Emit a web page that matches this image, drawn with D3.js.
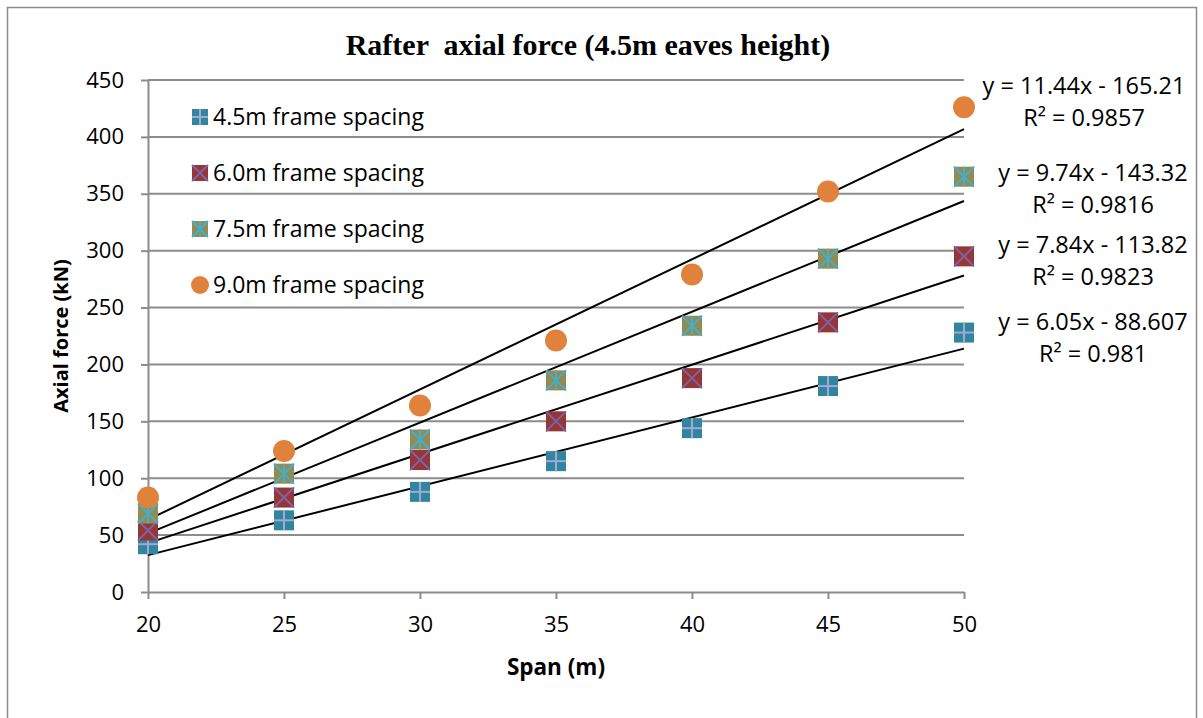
<!DOCTYPE html>
<html>
<head>
<meta charset="utf-8">
<script src="https://cdn.jsdelivr.net/npm/d3@7"></script>
<style>
  body { margin: 0; background: #fff; overflow: hidden; }
  svg { display: block; }
  text { font-family: "Open Sans", sans-serif; }
</style>
</head>
<body>
<svg id="drawing_region"></svg>
<script>
// data
var spans = [20, 25, 30, 35, 40, 45, 50];
var seriesNames = ['4.5m frame spacing', '6.0m frame spacing', '7.5m frame spacing', '9.0m frame spacing'];
var force45 = [42, 63, 88, 115, 144, 181, 228];
var force60 = [54, 83, 116, 150, 188, 237, 295];
var force75 = [69, 104, 134, 186, 234, 293, 365];
var force90 = [83, 124, 164, 221, 279, 352, 426];
var slopes = [6.05, 7.84, 9.74, 11.44];
var intercepts = [-88.607, -113.82, -143.32, -165.21];
var equations = ['y = 6.05x - 88.607', 'y = 7.84x - 113.82', 'y = 9.74x - 143.32', 'y = 11.44x - 165.21'];
var rSquared = ['R² = 0.981', 'R² = 0.9823', 'R² = 0.9816', 'R² = 0.9857'];
var yTicks = [0, 50, 100, 150, 200, 250, 300, 350, 400, 450];
var xTicks = [20, 25, 30, 35, 40, 45, 50];

var width = 1203;
var height = 718;
var margin = {top: 80, right: 239, bottom: 126, left: 148};
var innerWidth = width - margin.left - margin.right;
var innerHeight = height - margin.top - margin.bottom;

var svg = d3.select('#drawing_region')
    .attr('width', width)
    .attr('height', height);

// outer frame: top, left and right sides (bottom is below the picture)
svg.append('path')
    .attr('d', 'M7.5,718 V7.5 H1196.5 V718')
    .attr('fill', 'none')
    .attr('stroke', '#8c8c8c')
    .attr('stroke-width', 1.5);

var chart = svg.append('g')
    .attr('transform', `translate(${margin.left}, ${margin.top})`);

var xscale = d3.scaleLinear().domain([20, 50]).range([0, innerWidth]);
var yscale = d3.scaleLinear().domain([0, 450]).range([innerHeight, 0]);

// gridlines
chart.append('g').selectAll('line').data(yTicks.slice(1)).enter()
    .append('line')
    .attr('x1', 0).attr('x2', innerWidth)
    .attr('y1', d => yscale(d)).attr('y2', d => yscale(d))
    .attr('stroke', '#8c8c8c')
    .attr('stroke-width', 2);

var xaxis = d3.axisBottom(xscale).tickValues(xTicks).tickSize(7).tickSizeOuter(0).tickPadding(17);
var yaxis = d3.axisLeft(yscale).tickValues(yTicks).tickSize(7).tickSizeOuter(0).tickPadding(17);

var gx = chart.append('g')
    .attr('transform', `translate(0, ${innerHeight})`)
    .call(xaxis);
var gy = chart.append('g').call(yaxis);

[gx, gy].forEach(g => {
    g.attr('font-size', 22).attr('font-family', '"Open Sans", sans-serif');
    g.selectAll('.domain, line').attr('stroke', '#8c8c8c').attr('stroke-width', 2);
    g.selectAll('text').attr('fill', '#000');
});

// trendlines
var lineGen = d3.line().x(d => xscale(d[0])).y(d => yscale(d[1]));
slopes.forEach((m, i) => {
    chart.append('path')
        .attr('d', lineGen([[20, m * 20 + intercepts[i]], [50, m * 50 + intercepts[i]]]))
        .attr('stroke', '#000')
        .attr('stroke-width', 2)
        .attr('fill', 'none');
});

// marker drawing
var styles = [
    {fill: '#31859c', stroke: '#9fa8d8', kind: 'plus'},
    {fill: '#953735', stroke: '#7e62aa', kind: 'cross'},
    {fill: '#948a54', stroke: '#40b0cc', kind: 'star'},
    {fill: '#e0823b', stroke: null, kind: 'circle'}
];

function drawMarker(g, cx, cy, s, st) {
    var h = s / 2;
    if (st.kind === 'circle') {
        g.append('circle').attr('cx', cx).attr('cy', cy).attr('r', h + 1).attr('fill', st.fill);
        return;
    }
    g.append('rect').attr('x', cx - h).attr('y', cy - h).attr('width', s).attr('height', s)
        .attr('fill', st.fill);
    var segs = [];
    if (st.kind === 'plus' || st.kind === 'star') {
        segs.push([cx, cy - h, cx, cy + h]);
    }
    if (st.kind === 'plus') {
        segs.push([cx - h, cy, cx + h, cy]);
    }
    if (st.kind === 'cross' || st.kind === 'star') {
        segs.push([cx - h, cy - h, cx + h, cy + h]);
        segs.push([cx - h, cy + h, cx + h, cy - h]);
    }
    segs.forEach(p => {
        g.append('line').attr('x1', p[0]).attr('y1', p[1]).attr('x2', p[2]).attr('y2', p[3])
            .attr('stroke', st.stroke).attr('stroke-width', 2);
    });
}

var allSeries = [force45, force60, force75, force90];
allSeries.forEach((vals, i) => {
    var g = chart.append('g');
    vals.forEach((v, j) => drawMarker(g, xscale(spans[j]), yscale(v), 20, styles[i]));
});

// legend
var legend = chart.append('g').attr('transform', 'translate(52, 37)');
seriesNames.forEach((name, i) => {
    var row = legend.append('g').attr('transform', `translate(0, ${i * 56})`);
    drawMarker(row, 0, 0, 16, styles[i]);
    row.append('text')
        .attr('x', 13).attr('y', 0).attr('dy', '0.35em')
        .attr('font-size', 23)
        .text(name);
});

// equation labels
var eqPos = [
    {x: 1093, y: 322},
    {x: 1093, y: 245},
    {x: 1093, y: 173},
    {x: 1084, y: 86}
];
equations.forEach((eq, i) => {
    svg.append('text')
        .attr('x', eqPos[i].x).attr('y', eqPos[i].y).attr('dy', '0.35em')
        .attr('text-anchor', 'middle').attr('font-size', 23.5)
        .text(eq);
    svg.append('text')
        .attr('x', eqPos[i].x).attr('y', eqPos[i].y + 32).attr('dy', '0.35em')
        .attr('text-anchor', 'middle').attr('font-size', 23.5)
        .text(rSquared[i]);
});

// title and axis titles
svg.append('text')
    .attr('x', 588).attr('y', 55)
    .attr('text-anchor', 'middle')
    .attr('xml:space', 'preserve')
    .style('white-space', 'pre')
    .style('font-family', '"Liberation Serif", "Times New Roman", serif')
    .attr('font-weight', 'bold')
    .attr('font-size', 30)
    .text('Rafter  axial force (4.5m eaves height)');

svg.append('text')
    .attr('x', 556).attr('y', 667).attr('dy', '0.35em')
    .attr('text-anchor', 'middle')
    .attr('font-weight', 'bold').attr('font-size', 22.5)
    .text('Span (m)');

svg.append('text')
    .attr('transform', 'translate(61, 336) rotate(-90)')
    .attr('dy', '0.35em')
    .attr('text-anchor', 'middle')
    .attr('font-weight', 'bold').attr('font-size', 20)
    .text('Axial force (kN)');
</script>
</body>
</html>
